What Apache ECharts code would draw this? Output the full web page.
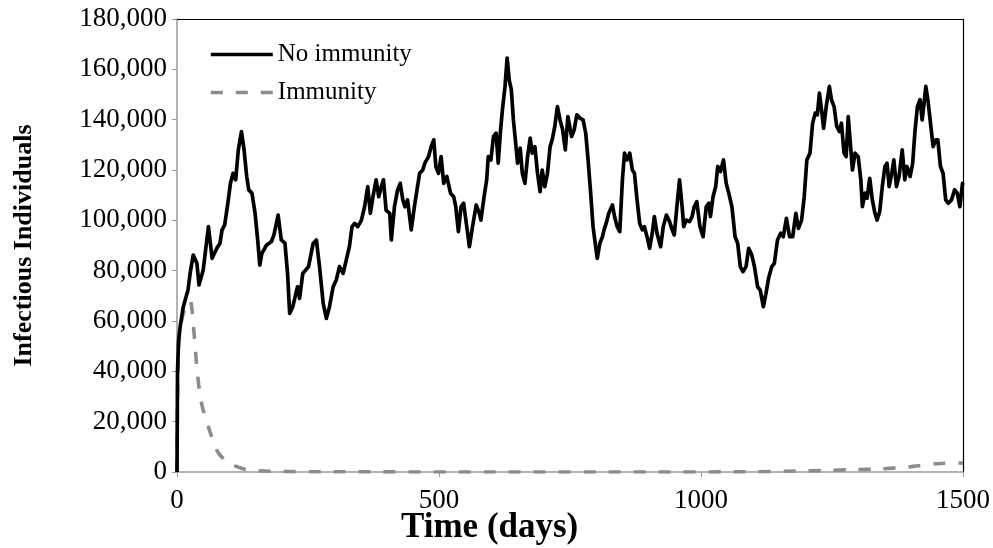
<!DOCTYPE html>
<html>
<head>
<meta charset="utf-8">
<script src="https://cdn.jsdelivr.net/npm/echarts@6/dist/echarts.min.js"></script>
<style>
html,body{margin:0;padding:0;background:#fff;}
#chart{width:993px;height:548px;}
</style>
</head>
<body>
<div id="chart"></div>
<script>
// ---- Data ----
const seriesNames = ["No immunity", "Immunity"];
const xTitle = "Time (days)";
const yTitle = "Infectious Individuals";

const noImmDays = [0,1,3,6,12,21,25,31,38,42,50,60,67,76,82,86,91,97,102,107,112,117,123,128,133,137,143,149,154,158,162,171,180,185,193,199,206,211,215,221,230,234,240,251,260,266,272,279,285,291,298,304,310,317,323,329,334,339,345,352,358,364,369,374,380,385,390,394,399,406,409,415,421,426,431,435,440,447,453,459,463,469,473,480,485,490,494,499,504,509,515,522,528,532,537,542,547,553,558,564,571,577,580,586,591,594,599,604,609,613,617,621,626,630,634,638,642,647,650,655,659,664,669,674,678,683,688,693,697,702,707,712,716,721,726,731,736,741,746,753,758,763,769,775,780,784,789,794,799,802,807,812,815,820,824,831,835,840,845,850,854,859,864,869,873,878,883,888,892,897,902,907,911,916,923,928,934,940,945,949,954,959,964,967,972,978,983,987,992,998,1004,1010,1015,1018,1023,1028,1032,1037,1043,1048,1053,1059,1065,1070,1075,1080,1086,1091,1097,1102,1108,1113,1119,1124,1129,1135,1140,1146,1152,1157,1163,1169,1175,1181,1186,1192,1197,1202,1208,1213,1218,1222,1226,1230,1234,1239,1245,1249,1254,1259,1264,1268,1273,1277,1281,1286,1289,1294,1300,1305,1308,1313,1317,1322,1327,1332,1336,1341,1346,1351,1355,1359,1364,1368,1373,1378,1384,1389,1393,1399,1404,1408,1413,1418,1422,1425,1429,1433,1438,1443,1448,1452,1457,1462,1467,1472,1478,1484,1489,1494,1499,1500];

const noImmValues = [0,40000,52000,57700,65700,72300,78900,86200,82900,74300,80300,97500,84900,88900,90900,96200,98200,106800,114700,118700,116100,128000,135300,128000,117400,112100,110800,102800,92200,82200,86900,90200,91500,94200,102100,92200,90900,78900,63000,65700,73600,69000,78900,81600,90900,92200,81600,67000,61000,65700,73600,76300,81600,78900,84200,89500,97500,98800,97500,100100,105400,113400,102800,109400,116100,109400,113400,116100,104100,102800,92200,105400,112100,114700,108100,105400,108100,96200,105400,113400,118700,120000,122700,125300,129300,132000,121400,118700,125300,114700,117400,110800,109400,105400,95500,105400,106800,97500,89500,97500,106100,102800,100100,109400,116100,125300,124000,133300,134600,122700,134600,143900,153200,164500,155800,151900,139900,129300,122700,128700,118700,114700,125300,132700,126700,129300,118700,111400,120000,113400,118700,129300,132000,137300,145200,139900,136000,128000,141200,133300,136000,141900,140600,139900,134600,125300,112100,97500,89500,84900,90900,93500,96200,99500,102800,106100,101500,97500,95500,116100,126700,124000,126700,120000,118700,108100,98800,96200,97500,93500,88900,94900,101500,94900,89500,97500,102100,99500,96200,94200,105400,116100,105400,97500,100100,99500,101500,105400,107400,97500,93500,105400,106800,101500,109400,113400,121400,119400,124000,114700,110800,105400,93500,90900,81600,79600,81600,88900,86200,81600,73600,72300,65700,71000,77000,81600,82900,92200,94900,93500,100800,93500,93500,102800,96800,100100,109400,124000,126700,138600,142600,141900,150600,143900,136600,145200,153200,147900,145200,137300,135300,138600,126700,125300,141200,128000,120000,126700,125300,116100,105400,110800,108800,116700,108100,102800,100100,103400,113400,121400,122700,113400,118700,124000,113400,117400,128000,116100,121400,117400,122700,134600,145200,147900,139900,145200,153200,147900,138600,129300,132000,132000,121400,118700,108100,106800,108100,112100,110800,105400,114700,114100];

const immDays = [0,1,3,6,12,20,25,32,39,47,60,76,90,107,133,177,300,600,900,1100,1182,1237,1294,1338,1395,1449,1494,1500];
const immValues = [0,30000,50000,57000,63000,67000,68000,56400,39100,27200,17900,8600,5000,2700,950,300,100,0,0,100,400,600,950,1200,2000,3300,3600,3500];

const xTicks = [0, 500, 1000, 1500];
const yMax = 180000;

// ---- Chart ----
const pairs = (xs, ys) => xs.map((x, i) => [x, ys[i]]);
const fmt = v => String(v).replace(/\B(?=(\d{3})+(?!\d))/g, ",");
const serif = "'Liberation Serif','Times New Roman',serif";

const chart = echarts.init(document.getElementById('chart'), null, {renderer: 'canvas'});
chart.setOption({
  animation: false,
  backgroundColor: '#fff',
  title: {
    text: xTitle, left: 396, top: 505,
    textStyle: {fontFamily: serif, fontSize: 35, fontWeight: 'bold', color: '#000'}
  },
  grid: {left: 177, right: 28, top: 19, bottom: 76, containLabel: false},
  legend: {
    orient: 'vertical', left: 204, top: 37, itemWidth: 62, itemHeight: 14, itemGap: 13,
    itemStyle: {opacity: 0},
    lineStyle: {width: 3.6},
    textStyle: {fontFamily: serif, fontSize: 25, color: '#000'},
    data: seriesNames
  },
  xAxis: [{
    type: 'value', min: xTicks[0], max: xTicks[xTicks.length - 1], interval: 500,
    axisLine: {lineStyle: {color: '#9a9a9a', width: 1.5}},
    axisTick: {length: 5, lineStyle: {color: '#9a9a9a'}},
    axisLabel: {fontFamily: serif, fontSize: 27, color: '#000', margin: 15, formatter: v => String(v)},
    splitLine: {show: false}
  }, {
    type: 'value', position: 'top', min: 0, max: 1500,
    axisLine: {show: true, onZero: false, lineStyle: {color: '#000', width: 1.2}},
    axisTick: {show: false}, axisLabel: {show: false}, splitLine: {show: false}
  }],
  yAxis: [{
    type: 'value', min: 0, max: yMax, interval: 20000,
    name: yTitle, nameLocation: 'middle', nameGap: 140, nameRotate: 90,
    nameTextStyle: {fontFamily: serif, fontSize: 26, fontWeight: 'bold', color: '#000'},
    axisLine: {show: true, lineStyle: {color: '#9a9a9a', width: 1.5}},
    axisTick: {show: true, length: 5, lineStyle: {color: '#9a9a9a'}},
    axisLabel: {fontFamily: serif, fontSize: 27, color: '#000', margin: 10, formatter: fmt},
    splitLine: {show: false}
  }, {
    type: 'value', position: 'right', min: 0, max: yMax,
    axisLine: {show: true, onZero: false, lineStyle: {color: '#000', width: 1.2}},
    axisTick: {show: false}, axisLabel: {show: false}, splitLine: {show: false}
  }],
  series: [{
    name: seriesNames[1], type: 'line', symbol: 'none', smooth: 0.3,
    data: pairs(immDays, immValues),
    lineStyle: {color: '#8c8c8c', width: 3.6, type: [12, 13]},
    itemStyle: {color: '#8c8c8c'}, z: 2
  }, {
    name: seriesNames[0], type: 'line', symbol: 'none', smooth: false,
    data: pairs(noImmDays, noImmValues),
    lineStyle: {color: '#000', width: 3.7, join: 'round'},
    itemStyle: {color: '#000'}, z: 3
  }]
});
</script>
</body>
</html>
